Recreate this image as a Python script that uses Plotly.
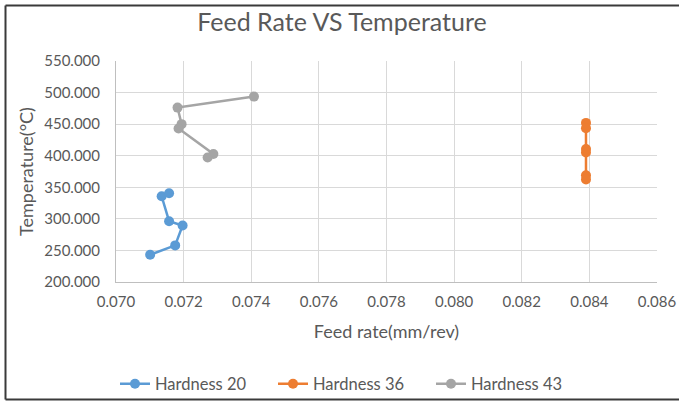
import plotly.graph_objects as go

# Data
h20_feed = [0.07101, 0.07175, 0.07197, 0.07157, 0.07135, 0.07157]
h20_temp = [243.2, 258.0, 289.4, 296.3, 335.7, 340.5]

h36_feed = [0.0839, 0.0839, 0.0839, 0.0839, 0.0839, 0.0839]
h36_temp = [452.0, 443.5, 410.5, 405.0, 369.0, 362.5]

h43_feed = [0.07408, 0.07182, 0.07194, 0.07185, 0.07288, 0.07271]
h43_temp = [493.6, 476.2, 450.0, 443.0, 402.7, 397.3]

series_names = ["Hardness 20", "Hardness 36", "Hardness 43"]
colors = ["#5B9BD5", "#ED7D31", "#A5A5A5"]

FONT = "Lato, Open Sans, sans-serif"

fig = go.Figure()
for name, xs, ys, c in zip(series_names,
                           [h20_feed, h36_feed, h43_feed],
                           [h20_temp, h36_temp, h43_temp],
                           colors):
    fig.add_trace(go.Scatter(x=xs, y=ys, name=name, mode="lines+markers",
                             line=dict(color=c, width=2.5),
                             marker=dict(color=c, size=10)))

W, H = 679, 401
L, R, T, B = 116, 22, 61, 119
pw, ph = W - L - R, H - T - B

def px_x(px):
    return (px - L) / pw

def px_y(py):
    return (H - B - py) / ph

fig.update_layout(
    width=W, height=H,
    margin=dict(l=L, r=R, t=T, b=B, autoexpand=False),
    paper_bgcolor="white", plot_bgcolor="white",
    font=dict(family=FONT, color="#595959", size=15),
    title=dict(text="Feed Rate VS Temperature", x=342 / W, xanchor="center",
               xref="container", y=1 - 22 / H, yanchor="middle",
               font=dict(size=25, color="#595959", family=FONT)),
    xaxis=dict(range=[0.070, 0.086], dtick=0.002, tickformat=".3f",
               showgrid=True, gridcolor="#D9D9D9", gridwidth=1,
               showline=True, linecolor="#BFBFBF", linewidth=1,
               zeroline=False, ticks="", automargin=False,
               ticklabelstandoff=6,
               tickfont=dict(size=15, color="#595959"),
               title=dict(text="Feed rate(mm/rev)", standoff=16,
                          font=dict(size=18, color="#595959"))),
    yaxis=dict(range=[200, 550], dtick=50, tickformat=".3f",
               showgrid=True, gridcolor="#D9D9D9", gridwidth=1,
               showline=True, linecolor="#BFBFBF", linewidth=1,
               zeroline=False, ticks="", automargin=False,
               ticklabelstandoff=12,
               tickfont=dict(size=15, color="#595959"),
               title=dict(text="Temperature(°C)", standoff=5,
                          font=dict(size=18, color="#595959"))),
    legend=dict(orientation="h", xref="container", yref="container",
                x=352 / W, xanchor="center",
                y=1 - 384 / H, yanchor="middle",
                bgcolor="rgba(0,0,0,0)", entrywidth=113,
                font=dict(size=16.5, color="#595959")),
    showlegend=True,
)

# outer chart border (top, left, bottom)
border = dict(color="#3A3A3A", width=2)
fig.add_shape(type="line", xref="paper", yref="paper",
              x0=px_x(5.5), x1=px_x(690), y0=px_y(5.5), y1=px_y(5.5), line=border)
fig.add_shape(type="line", xref="paper", yref="paper",
              x0=px_x(5.5), x1=px_x(5.5), y0=px_y(5.5), y1=px_y(399.5), line=border)
fig.add_shape(type="line", xref="paper", yref="paper",
              x0=px_x(5.5), x1=px_x(690), y0=px_y(399.5), y1=px_y(399.5), line=border)

fig.write_html("out.html")
